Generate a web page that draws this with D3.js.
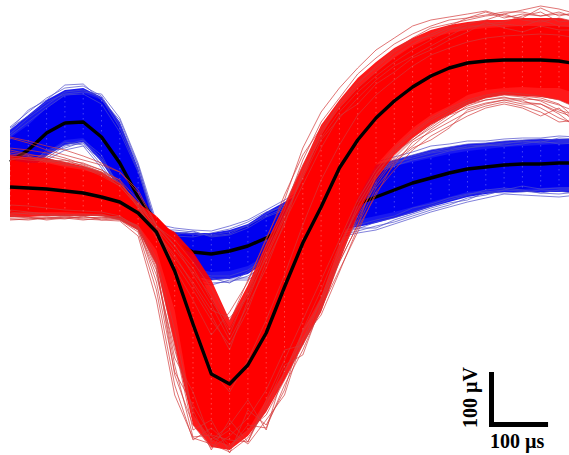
<!DOCTYPE html>
<html><head><meta charset="utf-8">
<script src="https://cdn.jsdelivr.net/npm/d3@7"></script>
<style>html,body{margin:0;padding:0;background:#fff;overflow:hidden}svg{display:block}</style>
</head><body><div id="chart"></div>
<script>
// All amplitudes in microvolts, one value per sample (32 kHz, 31.25 us per sample).
const sampleCount = 32;
const sampleUs = 31.25;

const blueMean = [108,132,166,186,188,158,106,38,-12,-54,-72,-76,-70,-60,-44,-24,-4,6,14,24,38,52,66,76,86,94,98,102,104,104,106,106];
const redMean = [58,56,54,50,46,38,28,6,-32,-110,-216,-316,-336,-298,-234,-142,-54,18,96,152,196,230,258,280,296,306,310,312,312,312,310,304];

// Edges of the densely overlapped core of each unit
const blueUpper = [156,182,216,240,246,232,176,88,-32,-36,-38,-36,-32,-20,2,22,42,52,70,80,88,100,108,116,124,130,134,138,140,142,144,144];
const blueLower = [82,102,128,152,156,116,60,2,-40,-84,-104,-112,-110,-100,-78,-54,-32,-24,-18,-8,0,8,18,28,38,48,52,56,54,56,58,58];
const redUpper = [112,106,106,98,92,82,62,26,0,-38,-92,-164,-224,-154,-72,0,76,162,216,256,288,316,340,356,366,372,376,378,380,380,380,376];
const redLower = [6,8,8,8,6,4,-4,-18,-68,-188,-398,-448,-458,-428,-368,-312,-228,-162,-58,36,102,142,176,202,220,242,252,256,258,256,256,244];

// Edges of the less dense zone around each core
const blueOuterUpper = [172,202,232,252,256,238,188,96,-24,-32,-34,-34,-28,-16,8,28,48,60,78,92,102,112,122,132,138,144,146,150,152,154,154,154];
const blueOuterLower = [72,92,120,142,148,108,52,-2,-44,-98,-120,-128,-126,-116,-92,-68,-48,-36,-28,-22,-14,-4,6,18,28,38,44,48,48,48,48,48];
const redOuterUpper = [122,118,116,108,100,88,66,26,-12,-32,-72,-128,-208,-138,-54,22,102,182,232,276,308,336,356,372,382,388,392,392,396,396,396,388];
const redOuterLower = [-2,-2,0,0,0,0,-8,-28,-98,-258,-418,-462,-468,-440,-392,-328,-258,-192,-92,2,72,122,156,182,202,222,236,242,240,238,232,216];

// Individual outlying spikes
const blueSpike1 = [178,208,236,256,260,240,184,100,-20,-32,-36,-38,-32,-20,4,22,40,56,72,88,102,112,122,132,138,144,146,150,152,154,152,152];
const blueSpike2 = [172,212,232,262,264,232,192,102,-24,-40,-42,-34,-26,-12,8,18,36,52,66,80,96,108,116,126,132,140,142,146,148,148,156,154];
const blueSpike3 = [164,196,222,248,252,236,176,92,-28,-28,-32,-40,-36,-18,0,16,32,48,70,84,92,104,120,128,136,136,140,144,150,146,148,148];
const blueSpike4 = [68,88,116,140,146,102,48,-4,-48,-108,-124,-134,-132,-120,-98,-78,-58,-44,-38,-30,-20,-12,0,12,22,36,42,52,50,46,44,48];
const blueSpike5 = [76,96,122,148,142,112,56,0,-44,-100,-128,-128,-124,-124,-92,-68,-48,-36,-28,-24,-24,-8,4,16,26,32,48,46,48,52,50,44];
const blueSpike6 = [82,100,132,142,152,122,52,2,-40,-92,-118,-124,-134,-112,-88,-72,-52,-40,-32,-26,-12,-4,8,20,32,42,52,56,52,46,52,52];
const blueSpike7 = [160,188,216,242,244,224,168,88,-16,-24,-28,-30,-20,-8,12,32,52,64,82,96,108,118,128,140,144,150,150,154,156,156,160,158];
const blueSpike8 = [176,200,228,244,248,244,196,106,-12,-38,-30,-42,-38,-24,-2,12,28,44,60,74,88,100,112,120,130,136,142,140,144,150,144,146];
const blueSpike9 = [64,84,112,132,140,96,42,-8,-52,-112,-132,-138,-128,-128,-104,-82,-62,-48,-42,-34,-28,-16,-4,8,18,28,36,44,42,40,38,42];
const blueSpike10 = [88,106,128,136,148,116,60,8,-36,-88,-112,-120,-120,-108,-84,-60,-44,-28,-24,-18,-8,0,16,24,36,44,48,52,60,54,56,56];

const redSpike1 = [156,146,132,122,112,102,88,46,-20,-48,-92,-144,-212,-128,-48,42,122,176,224,264,300,332,356,376,384,392,400,404,412,420,414,404];
const redSpike2 = [128,122,120,112,106,92,68,24,-24,-68,-112,-160,-238,-148,-58,22,102,170,216,256,288,320,344,364,380,396,408,396,404,400,408,396];
const redSpike3 = [120,116,112,108,102,88,72,16,-38,-92,-148,-208,-258,-188,-92,-18,92,156,208,248,280,308,332,352,372,384,392,404,392,388,396,388];
const redSpike4 = [132,124,116,104,96,80,60,18,-32,-78,-138,-198,-268,-168,-78,2,76,152,196,236,272,300,320,340,360,380,380,384,380,392,380,380];
const redSpike5 = [112,118,108,112,100,88,64,28,-18,-58,-118,-178,-248,-178,-104,-12,62,136,200,224,264,288,316,332,352,368,388,376,368,380,372,372];
const redSpike6 = [158,150,140,132,120,106,88,52,-18,-104,-208,-308,-352,-288,-208,-118,-18,72,142,202,242,272,300,322,336,348,356,360,362,364,362,356];
const redSpike7 = [-4,-4,-2,-4,-2,-4,-8,-32,-148,-338,-448,-424,-458,-428,-398,-328,-258,-168,-78,-8,68,116,152,176,202,216,226,232,232,216,196,182];
const redSpike8 = [-8,-6,-4,0,-4,-2,-6,-28,-118,-268,-388,-468,-408,-452,-378,-298,-278,-178,-84,0,62,112,140,172,196,220,232,238,228,224,208,196];
const redSpike9 = [0,-4,-6,-2,-6,-8,-4,-24,-92,-258,-428,-408,-474,-388,-418,-348,-228,-148,-58,12,76,120,156,184,208,224,232,236,234,232,222,208];
const redSpike10 = [8,4,0,2,4,0,-2,-20,-84,-228,-398,-448,-418,-368,-428,-308,-248,-164,-68,22,84,132,164,192,212,228,240,244,240,236,224,192];
const redSpike11 = [4,6,4,0,2,2,-8,-28,-108,-298,-442,-438,-448,-452,-368,-288,-208,-128,-48,32,92,136,168,196,216,232,242,248,244,240,232,216];
const redSpike12 = [22,20,16,12,10,8,0,-24,-98,-318,-418,-464,-440,-404,-348,-268,-258,-188,-92,-18,82,128,152,180,206,226,236,242,238,230,212,200];
const redSpike13 = [124,120,112,106,96,84,60,20,-20,-60,-104,-168,-228,-158,-68,12,112,188,236,284,316,344,364,380,392,396,402,408,408,400,404,400];
const redSpike14 = [136,132,126,116,104,92,72,32,-32,-84,-132,-188,-204,-160,-84,-4,82,162,228,268,296,328,352,360,376,376,384,388,400,408,388,392];
const redSpike15 = [116,112,110,102,98,86,66,22,-44,-104,-168,-238,-192,-132,-44,32,136,208,256,296,332,356,380,392,398,404,410,400,396,416,400,408];
const redSpike16 = [-6,-8,-4,-6,0,-8,-10,-40,-168,-358,-444,-456,-472,-444,-388,-312,-232,-172,-92,-18,56,102,148,168,188,208,220,228,220,208,188,192];
const redSpike17 = [2,-2,-8,-4,-8,-4,0,-24,-132,-312,-378,-440,-464,-418,-424,-338,-268,-184,-108,-32,48,92,132,160,180,200,216,224,216,200,216,184];
const redSpike18 = [12,8,4,4,0,4,-6,-20,-104,-284,-352,-452,-428,-456,-408,-358,-244,-198,-112,-24,42,108,136,152,176,212,224,232,224,224,204,176];

const blueSpikes = [blueSpike1,blueSpike2,blueSpike3,blueSpike4,blueSpike5,blueSpike6,blueSpike7,blueSpike8,blueSpike9,blueSpike10];
const redSpikes = [redSpike1,redSpike2,redSpike3,redSpike4,redSpike5,redSpike6,redSpike7,redSpike8,redSpike9,redSpike10,redSpike11,redSpike12,redSpike13,redSpike14,redSpike15,redSpike16,redSpike17,redSpike18];

const scaleBarUv = 100;
const scaleBarUs = 100;
const scaleBarUvLabel = "100 µV";
const scaleBarUsLabel = "100 µs";

const W = 569, H = 455;
const x = d3.scaleLinear().domain([0, sampleCount - 1]).range([10, 577.3]);
const y = d3.scaleLinear().domain([432, -478]).range([0, H]);
const indices = d3.range(sampleCount);

const svg = d3.select("#chart").append("svg").attr("width", W).attr("height", H);
const line = d3.line().x((d, i) => x(i)).y(d => y(d));
const band = (upper, lower) => d3.area().x(i => x(i)).y0(i => y(lower[i])).y1(i => y(upper[i]))(indices);

function drawUnit(upper, lower, outerUpper, outerLower, spikes, mean, fill, thin) {
  const g = svg.append("g");
  g.append("path").attr("d", band(outerUpper, outerLower)).attr("fill", fill).attr("fill-opacity", 0.9);
  g.append("path").attr("d", band(upper, lower)).attr("fill", fill);
  g.selectAll("path.spike").data(spikes).join("path")
    .attr("class", "spike").attr("d", line).attr("fill", "none")
    .attr("stroke", thin).attr("stroke-width", 0.7);
  g.selectAll("line.speck").data(indices).join("line")
    .attr("class", "speck")
    .attr("x1", i => x(i)).attr("x2", i => x(i))
    .attr("y1", i => y(upper[i])).attr("y2", i => y(lower[i]))
    .attr("stroke", "#fff").attr("stroke-opacity", 0.35)
    .attr("stroke-width", 0.8).attr("stroke-dasharray", "1.5 3.5");
  g.append("path").attr("d", line(mean)).attr("fill", "none")
    .attr("stroke", "#000").attr("stroke-width", 3.4).attr("stroke-linejoin", "round");
}

drawUnit(blueUpper, blueLower, blueOuterUpper, blueOuterLower, blueSpikes, blueMean, "#0000f0", "#4a4acb");
drawUnit(redUpper, redLower, redOuterUpper, redOuterLower, redSpikes, redMean, "#ff0000", "#d23a3a");

// Scale bar
const barLeft = 491.5, barBottom = 424.5;
const barH = y(0) - y(scaleBarUv);
const barW = x(scaleBarUs / sampleUs) - x(0);
const bar = svg.append("g").attr("stroke", "#000").attr("stroke-width", 5);
bar.append("line").attr("stroke-linecap", "square").attr("x1", barLeft).attr("x2", barLeft).attr("y1", barBottom).attr("y2", barBottom - barH);
bar.append("line").attr("x1", barLeft - 2).attr("x2", barLeft - 2 + barW).attr("y1", barBottom).attr("y2", barBottom);

const font = "'Liberation Serif','Times New Roman',serif";
svg.append("text").text(scaleBarUsLabel)
  .attr("x", 490).attr("y", 448)
  .attr("font-family", font).attr("font-weight", "bold").attr("font-size", 20);
svg.append("text").text(scaleBarUvLabel)
  .attr("transform", "translate(477,428) rotate(-90)")
  .attr("font-family", font).attr("font-weight", "bold").attr("font-size", 20);
</script></body></html>
